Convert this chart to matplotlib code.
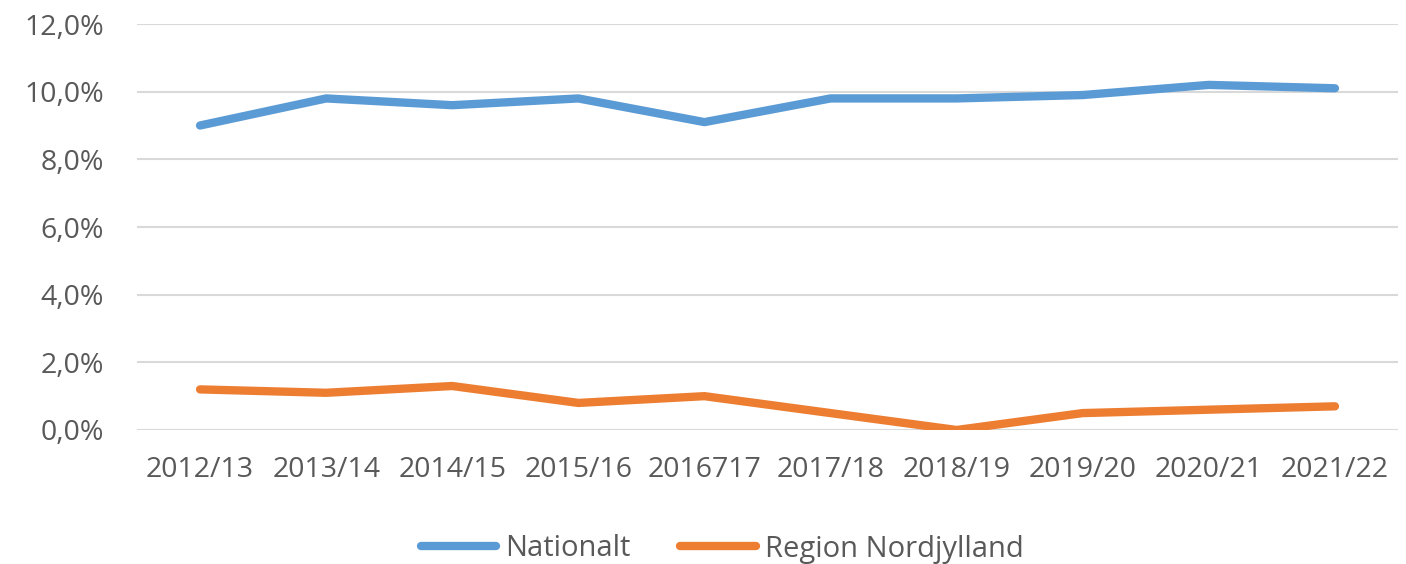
import matplotlib.pyplot as plt
from matplotlib.ticker import FuncFormatter

years = ["2012/13", "2013/14", "2014/15", "2015/16", "2016717",
         "2017/18", "2018/19", "2019/20", "2020/21", "2021/22"]
nationalt = [9.0, 9.8, 9.6, 9.8, 9.1, 9.8, 9.8, 9.9, 10.2, 10.1]
nordjylland = [1.2, 1.1, 1.3, 0.8, 1.0, 0.5, 0.0, 0.5, 0.6, 0.7]

plt.rcParams['font.family'] = ['Open Sans', 'DejaVu Sans']
grey = '#595959'

fig = plt.figure(figsize=(14.06, 5.64), dpi=100)
ax = fig.add_axes([137 / 1406, 1 - 430 / 564, (1398 - 137) / 1406, (430 - 24) / 564])

x = range(len(years))
ax.plot(x, nationalt, color='#5B9BD5', lw=6, solid_capstyle='round',
        solid_joinstyle='round', label='Nationalt', zorder=3)
ax.plot(x, nordjylland, color='#ED7D31', lw=6, solid_capstyle='round',
        solid_joinstyle='round', label='Region Nordjylland', zorder=3)

ax.set_xlim(-0.5, len(years) - 0.5)
ax.set_ylim(0, 12)
ax.set_yticks([0, 2, 4, 6, 8, 10, 12])
ax.yaxis.set_major_formatter(FuncFormatter(lambda v, p: f"{v:.1f}%".replace('.', ',')))
ax.set_xticks(list(x))
ax.set_xticklabels(years)
ax.grid(axis='y', color='#D9D9D9', lw=1.5)
ax.set_axisbelow(True)
for s in ax.spines.values():
    s.set_visible(False)
ax.tick_params(length=0, labelsize=20.5, colors=grey)
ax.tick_params(axis='x', pad=19)
ax.tick_params(axis='y', pad=24)

leg = fig.legend(loc='center', bbox_to_anchor=(722 / 1406, 1 - 549 / 564), ncol=2,
                 frameon=False, fontsize=21, handlelength=2.6, columnspacing=1.7,
                 handletextpad=0.3)
for t in leg.get_texts():
    t.set_color(grey)

fig.savefig('out.png', dpi=100)
